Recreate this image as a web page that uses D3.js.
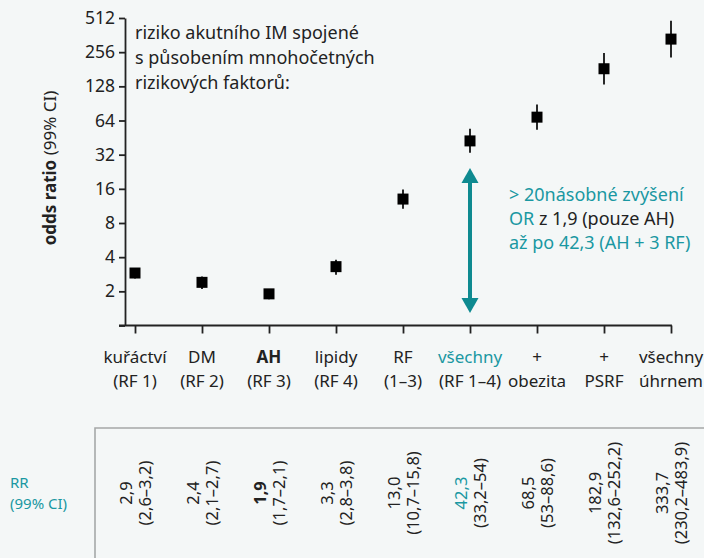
<!DOCTYPE html>
<html>
<head>
<meta charset="utf-8">
<script src="https://cdn.jsdelivr.net/npm/d3@7"></script>
<style>
  body { margin: 0; background: #f4f7f7; }
  svg text { font-family: "Noto Sans", sans-serif; fill: #222; }
</style>
</head>
<body>
<script>
// data
const categories = ['rf1', 'rf2', 'rf3', 'rf4', 'rf13', 'rf14', 'obez', 'psrf', 'all']
const labelTop = ['kuřáctví', 'DM', 'AH', 'lipidy', 'RF', 'všechny', '+', '+', 'všechny']
const labelBottom = ['(RF 1)', '(RF 2)', '(RF 3)', '(RF 4)', '(1–3)', '(RF 1–4)', 'obezita', 'PSRF', 'úhrnem']
const oddsRatio = [2.9, 2.4, 1.9, 3.3, 13.0, 42.3, 68.5, 182.9, 333.7]
const ciLow = [2.6, 2.1, 1.7, 2.8, 10.7, 33.2, 53, 132.6, 230.2]
const ciHigh = [3.2, 2.7, 2.1, 3.8, 15.8, 54, 88.6, 252.2, 483.9]
const orText = ['2,9', '2,4', '1,9', '3,3', '13,0', '42,3', '68,5', '182,9', '333,7']
const ciText = ['(2,6–3,2)', '(2,1–2,7)', '(1,7–2,1)', '(2,8–3,8)', '(10,7–15,8)',
    '(33,2–54)', '(53–88,6)', '(132,6–252,2)', '(230,2–483,9)']
const yTicks = [1, 2, 4, 8, 16, 32, 64, 128, 256, 512]

const teal = '#1a98a2'
const tealDark = '#0e8a90'
const ink = '#222'

const svg = d3.select('body')
    .append('svg')
    .attr('width', 704)
    .attr('height', 558)

svg.append('rect')
    .attr('width', 704)
    .attr('height', 558)
    .attr('fill', '#f4f7f7')

// scales
const x = d3.scalePoint()
    .domain(categories)
    .range([135, 671])

const y = d3.scaleLog()
    .base(2)
    .domain([1, 512])
    .range([325.5, 18])

// y axis
const yAxis = d3.axisLeft(y)
    .tickValues(yTicks)
    .tickFormat(d => d === 1 ? '' : d)
    .tickSize(6)
    .tickSizeOuter(0)

const yG = svg.append('g')
    .attr('transform', 'translate(125,0)')
    .call(yAxis)
yG.selectAll('path, line').attr('stroke', ink).attr('stroke-width', 1.8)
yG.selectAll('text')
    .attr('font-size', 17.5)
    .attr('x', -10)
    .attr('fill', ink)
    .style('font-family', '"Noto Sans", sans-serif')

// x axis
const xAxis = d3.axisBottom(x)
    .tickSize(8)
    .tickSizeOuter(0)
    .tickFormat('')

const xG = svg.append('g')
    .attr('transform', `translate(0,${y(1)})`)
    .call(xAxis)
xG.select('.domain').remove()
xG.selectAll('line').attr('stroke', ink).attr('stroke-width', 1.8)
xG.append('line')
    .attr('x1', 119)
    .attr('x2', x.range()[1] + 0.9)
    .attr('stroke', ink)
    .attr('stroke-width', 1.8)

// category labels
const catLabels = svg.append('g')
    .selectAll('text')
    .data(categories)
    .enter()
    .append('text')
    .attr('text-anchor', 'middle')
    .attr('font-size', 17)

catLabels.append('tspan')
    .attr('x', d => x(d))
    .attr('y', 363)
    .attr('font-weight', (d, i) => i === 2 ? 'bold' : null)
    .style('fill', (d, i) => i === 5 ? teal : ink)
    .text((d, i) => labelTop[i])

catLabels.append('tspan')
    .attr('x', d => x(d))
    .attr('y', 387)
    .text((d, i) => labelBottom[i])

// y axis title
svg.append('text')
    .attr('transform', 'translate(56,168) rotate(-90)')
    .attr('text-anchor', 'middle')
    .attr('font-size', 17)
    .call(t => {
        t.append('tspan').attr('font-weight', 'bold').text('odds ratio')
        t.append('tspan').text(' (99% CI)')
    })

// error bars
svg.append('g')
    .selectAll('line')
    .data(categories)
    .enter()
    .append('line')
    .attr('x1', d => x(d))
    .attr('x2', d => x(d))
    .attr('y1', (d, i) => y(ciLow[i]))
    .attr('y2', (d, i) => y(ciHigh[i]))
    .attr('stroke', '#111')
    .attr('stroke-width', 1.8)

// markers
const size = 11
svg.append('g')
    .selectAll('rect')
    .data(categories)
    .enter()
    .append('rect')
    .attr('x', d => x(d) - size / 2)
    .attr('y', (d, i) => y(oddsRatio[i]) - size / 2)
    .attr('width', size)
    .attr('height', size)
    .attr('fill', '#000')

// annotation top left
const note = ['riziko akutního IM spojené', 's působením mnohočetných', 'rizikových faktorů:']
svg.append('g')
    .selectAll('text')
    .data(note)
    .enter()
    .append('text')
    .attr('x', 135)
    .attr('y', (d, i) => 39 + i * 25)
    .attr('font-size', 18)
    .text(d => d)

// teal double arrow
const ax = x('rf14')
const arrowTop = 168
const arrowBottom = 313
const head = 15
svg.append('line')
    .attr('x1', ax)
    .attr('x2', ax)
    .attr('y1', arrowTop + head - 2)
    .attr('y2', arrowBottom - head + 2)
    .attr('stroke', tealDark)
    .attr('stroke-width', 4)
svg.append('path')
    .attr('d', `M${ax},${arrowTop} L${ax - 8.5},${arrowTop + head} L${ax + 8.5},${arrowTop + head} Z`)
    .attr('fill', tealDark)
svg.append('path')
    .attr('d', `M${ax},${arrowBottom} L${ax - 8.5},${arrowBottom - head} L${ax + 8.5},${arrowBottom - head} Z`)
    .attr('fill', tealDark)

// annotation right of arrow
const ann = svg.append('g').attr('font-size', 18)
ann.append('text').attr('x', 509).attr('y', 201).style('fill', teal).text('> 20násobné zvýšení')
ann.append('text').attr('x', 509).attr('y', 225)
    .call(t => {
        t.append('tspan').style('fill', teal).text('OR')
        t.append('tspan').style('fill', ink).text(' z 1,9 (pouze AH)')
    })
ann.append('text').attr('x', 509).attr('y', 249).style('fill', teal).text('až po 42,3 (AH + 3 RF)')

// table
svg.append('path')
    .attr('d', 'M95,570 L95,428 L710,428')
    .attr('fill', 'none')
    .attr('stroke', '#a5a8a8')
    .attr('stroke-width', 1.6)

svg.append('text')
    .attr('x', 10)
    .attr('y', 488)
    .attr('font-size', 15)
    .style('fill', teal)
    .text('RR')
svg.append('text')
    .attr('x', 10)
    .attr('y', 509)
    .attr('font-size', 15)
    .style('fill', teal)
    .text('(99% CI)')

const cells = svg.append('g')
    .selectAll('text')
    .data(categories)
    .enter()
    .append('text')
    .attr('transform', d => `translate(${x(d)},493) rotate(-90)`)
    .attr('text-anchor', 'middle')
    .attr('font-size', 16.5)

cells.append('tspan')
    .attr('x', 0)
    .attr('y', -3)
    .attr('font-weight', (d, i) => i === 2 ? 'bold' : null)
    .style('fill', (d, i) => i === 5 ? teal : ink)
    .text((d, i) => orText[i])

cells.append('tspan')
    .attr('x', 0)
    .attr('y', 16)
    .text((d, i) => ciText[i])
</script>
</body>
</html>
